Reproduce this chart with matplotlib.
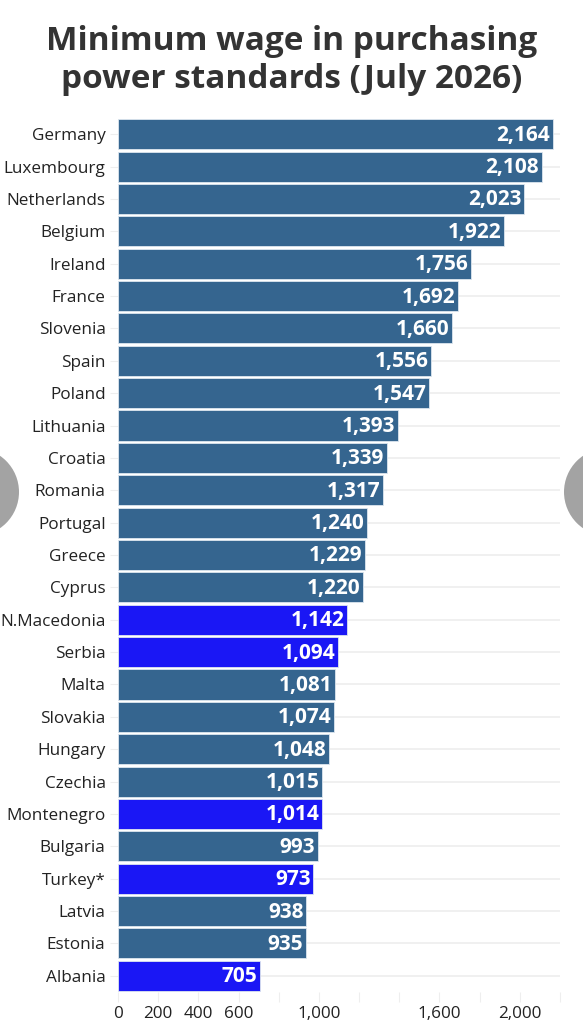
import matplotlib.pyplot as plt
from matplotlib.patches import Circle

countries = ["Germany", "Luxembourg", "Netherlands", "Belgium", "Ireland", "France",
             "Slovenia", "Spain", "Poland", "Lithuania", "Croatia", "Romania",
             "Portugal", "Greece", "Cyprus", "N.Macedonia", "Serbia", "Malta",
             "Slovakia", "Hungary", "Czechia", "Montenegro", "Bulgaria", "Turkey*",
             "Latvia", "Estonia", "Albania"]
wages = [2164, 2108, 2023, 1922, 1756, 1692, 1660, 1556, 1547, 1393, 1339, 1317,
         1240, 1229, 1220, 1142, 1094, 1081, 1074, 1048, 1015, 1014, 993, 973,
         938, 935, 705]
highlighted = ["N.Macedonia", "Serbia", "Montenegro", "Turkey*", "Albania"]
tick_values = list(range(0, 2201, 200))
tick_labels = ["0", "200", "400", "600", "", "1,000", "", "", "1,600", "", "2,000", ""]

plt.rcParams["font.family"] = ["Open Sans", "DejaVu Sans"]

fig = plt.figure(figsize=(5.83, 10.24), dpi=100)
ax = fig.add_axes([118 / 583, 1 - 992 / 1024, 442 / 583, (992 - 118) / 1024])

colors = ["#1a17f5" if c in highlighted else "#35658f" for c in countries]
ypos = list(range(len(countries)))
ax.barh(ypos, wages, height=0.93, color=colors, edgecolor="#dde6ef", linewidth=0.6, zorder=2)

# valeurs dans les barres
for y, v in zip(ypos, wages):
    ax.text(v - 12, y + 0.03, f"{v:,}", color="white", fontsize=15, fontweight="bold",
            ha="right", va="center", zorder=3)

ax.set_xlim(0, 2200)
ax.set_ylim(len(countries) - 0.5, -0.5)
ax.set_yticks(ypos)
ax.set_yticklabels(countries, fontsize=12.3, color="#222222")
ax.set_xticks(tick_values)
ax.set_xticklabels(tick_labels, fontsize=12.3, color="#222222")
ax.tick_params(axis="y", length=6, color="#eeeeee", pad=3)
ax.tick_params(axis="x", length=7, color="#eeeeee", pad=3)
ax.grid(axis="y", color="#eeeeee", linewidth=1.2, zorder=0)
for s in ax.spines.values():
    s.set_visible(False)

fig.text(0.5, 1 - 42 / 1024, "Minimum wage in purchasing", ha="center", va="center",
         fontsize=24, fontweight="bold", color="#333333")
fig.text(0.5, 1 - 79 / 1024, "power standards (July 2026)", ha="center", va="center",
         fontsize=24, fontweight="bold", color="#333333")

# cercles gris sur les bords
for cx in (-25, 608):
    fig.patches.append(Circle((cx / 100, (1024 - 492) / 100), 0.44,
                              transform=fig.dpi_scale_trans,
                              facecolor="#a3a3a3", edgecolor="none"))

fig.savefig("out.png", dpi=100)
